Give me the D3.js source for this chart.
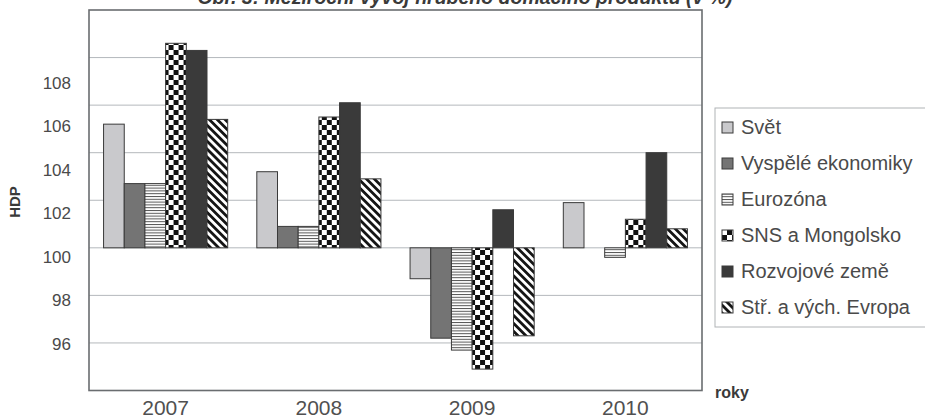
<!DOCTYPE html>
<html>
<head>
<meta charset="utf-8">
<script src="https://cdn.jsdelivr.net/npm/d3@7"></script>
<style>
  html, body { margin: 0; padding: 0; background: #fff; }
  svg { display: block; font-family: "Liberation Sans", Arial, Helvetica, sans-serif; }
</style>
</head>
<body>
<svg id="chart" width="925" height="419"></svg>
<script>
// Meziroční růst HDP (předchozí rok = 100)
const years = ["2007", "2008", "2009", "2010"];
const seriesNames = ["Svět", "Vyspělé ekonomiky", "Eurozóna", "SNS a Mongolsko", "Rozvojové země", "Stř. a vých. Evropa"];
const svet       = [105.2, 103.2, 98.7, 101.9];
const vyspele    = [102.7, 100.9, 96.2, 100.0];
const eurozona   = [102.7, 100.9, 95.7, 99.6];
const snsMong    = [108.6, 105.5, 94.9, 101.2];
const rozvojove  = [108.3, 106.1, 101.6, 104.0];
const strVychEvr = [105.4, 102.9, 96.3, 100.8];
const yTickLabels = [96, 98, 100, 102, 104, 106, 108];
const gridValues = [96, 98, 100, 102, 104, 106, 108];
const baseValue = 100;

const seriesValues = [svet, vyspele, eurozona, snsMong, rozvojove, strVychEvr];
const fills = ["#c9c9cc", "#747474", "url(#hstripe)", "url(#checker)", "#3a3a3a", "url(#diag)"];

const svg = d3.select("#chart");
const plot = { left: 89, right: 702, top: 10, bottom: 390.5 };

// pattern fills
const defs = svg.append("defs");
const hs = defs.append("pattern").attr("id", "hstripe")
  .attr("patternUnits", "userSpaceOnUse").attr("width", 4).attr("height", 2.8);
hs.append("rect").attr("width", 4).attr("height", 2.8).attr("fill", "#fff");
hs.append("rect").attr("width", 4).attr("height", 1).attr("fill", "#555");

const ck = defs.append("pattern").attr("id", "checker")
  .attr("patternUnits", "userSpaceOnUse").attr("width", 10).attr("height", 10);
ck.append("rect").attr("width", 10).attr("height", 10).attr("fill", "#fff");
ck.append("rect").attr("width", 5).attr("height", 5).attr("fill", "#111");
ck.append("rect").attr("x", 5).attr("y", 5).attr("width", 5).attr("height", 5).attr("fill", "#111");

const dg = defs.append("pattern").attr("id", "diag")
  .attr("patternUnits", "userSpaceOnUse").attr("width", 5.6).attr("height", 10)
  .attr("patternTransform", "rotate(-45)");
dg.append("rect").attr("width", 5.6).attr("height", 10).attr("fill", "#fff");
dg.append("rect").attr("width", 2.8).attr("height", 10).attr("fill", "#151515");

// scales
const y = d3.scaleLinear().domain([94, 110]).range([plot.bottom, plot.top]);
const labelY = d3.scaleLinear().domain([96, 108]).range([344, 83]);
const x0 = d3.scaleBand().domain(years).range([plot.left, plot.right])
  .paddingInner(0.19).paddingOuter(0.095);
const x1 = d3.scaleBand().domain(d3.range(seriesNames.length)).range([0, x0.bandwidth()]);

// gridlines
svg.append("g").selectAll("line").data(gridValues).join("line")
  .attr("x1", plot.left).attr("x2", plot.right)
  .attr("y1", d => y(d)).attr("y2", d => y(d))
  .attr("stroke", "#b4b8bc").attr("stroke-width", 1);

// bars
const groups = svg.append("g").selectAll("g").data(years).join("g")
  .attr("transform", d => `translate(${x0(d)},0)`);
groups.selectAll("rect")
  .data((yr, i) => seriesValues.map((vals, s) => ({ s, v: vals[i] })))
  .join("rect")
  .attr("x", d => x1(d.s))
  .attr("width", x1.bandwidth())
  .attr("y", d => y(Math.max(d.v, baseValue)))
  .attr("height", d => Math.abs(y(d.v) - y(baseValue)))
  .attr("fill", d => fills[d.s])
  .attr("stroke", d => d.v === baseValue ? "none" : "#3a3a3a")
  .attr("stroke-width", 1);

// frame
svg.append("rect")
  .attr("x", plot.left).attr("y", plot.top)
  .attr("width", plot.right - plot.left).attr("height", plot.bottom - plot.top)
  .attr("fill", "none").attr("stroke", "#6a6d70").attr("stroke-width", 1.6);

// y tick labels
const yAxis = svg.append("g").attr("transform", "translate(74,0)")
  .call(d3.axisLeft(labelY).tickValues(yTickLabels).tickSize(0).tickPadding(3).tickFormat(d3.format("d")));
yAxis.select(".domain").remove();
yAxis.selectAll("text").attr("font-size", 17).attr("fill", "#4a4a4a")
  .style("font-family", "'Liberation Sans', Arial, sans-serif");

// x labels
const xAxis = svg.append("g").attr("transform", `translate(0,${plot.bottom})`)
  .call(d3.axisBottom(x0).tickSize(0).tickPadding(10));
xAxis.select(".domain").remove();
xAxis.selectAll("text").attr("font-size", 21).attr("fill", "#505050")
  .style("font-family", "'Liberation Sans', Arial, sans-serif");

// axis titles
svg.append("text").attr("transform", "translate(20,202) rotate(-90)")
  .attr("text-anchor", "middle").attr("font-size", 15).attr("font-weight", "bold")
  .attr("fill", "#3a3a3a").text("HDP");
svg.append("text").attr("x", 715).attr("y", 398)
  .attr("font-size", 16).attr("font-weight", "bold").attr("fill", "#3a3a3a").text("roky");

// chart title (runs off the top edge)
svg.append("text").attr("x", 465).attr("y", 4)
  .attr("text-anchor", "middle").attr("font-size", 19.5).attr("font-weight", "bold")
  .attr("font-style", "italic").attr("fill", "#3a3a3a")
  .text("Obr. 3: Meziroční vývoj hrubého domácího produktu (v %)");

// legend
const legend = svg.append("g");
legend.append("rect").attr("x", 715).attr("y", 108).attr("width", 230).attr("height", 219)
  .attr("fill", "#fff").attr("stroke", "#b0b3b6").attr("stroke-width", 1);
const rowY = d3.scalePoint().domain(d3.range(seriesNames.length)).range([127, 307]);
const items = legend.selectAll("g.item").data(seriesNames).join("g").attr("class", "item")
  .attr("transform", (d, i) => `translate(722,${rowY(i)})`);
items.append("rect").attr("x", 0).attr("y", -5).attr("width", 11).attr("height", 11)
  .attr("fill", (d, i) => fills[i]).attr("stroke", "#3a3a3a").attr("stroke-width", 1);
items.append("text").attr("x", 19).attr("y", 0).attr("dy", "0.35em")
  .attr("font-size", 20).attr("fill", "#4a4a4a").text(d => d);
</script>
</body>
</html>
